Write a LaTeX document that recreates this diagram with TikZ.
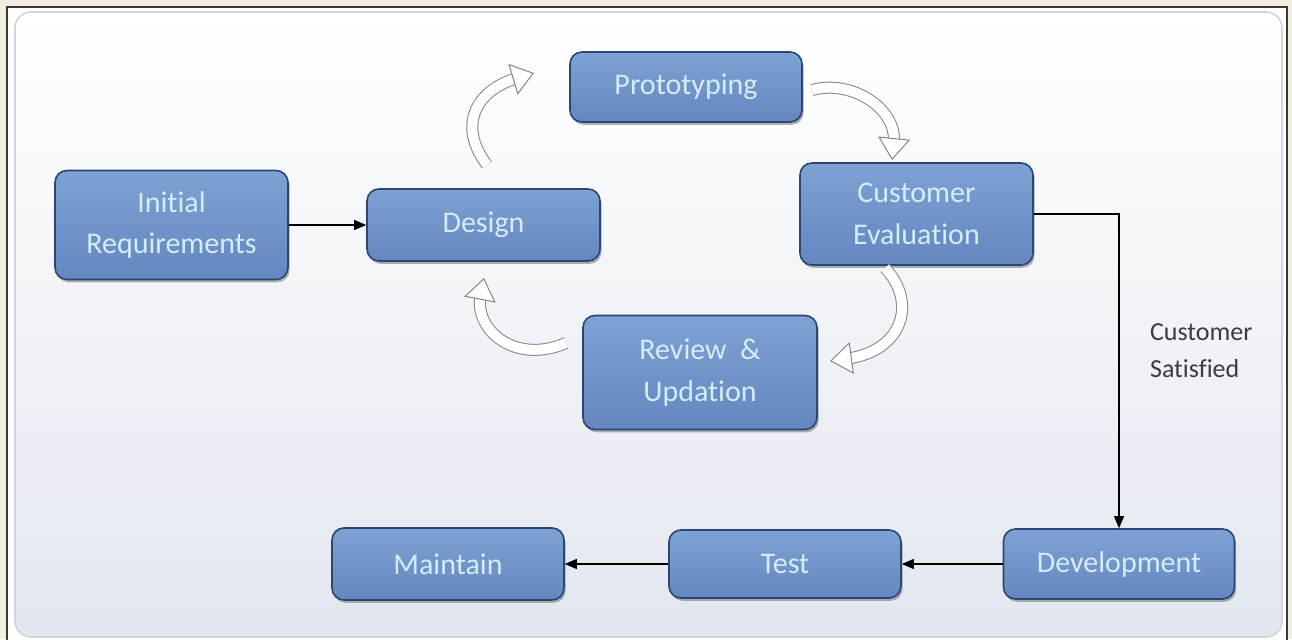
\documentclass[tikz,border=0pt]{standalone}
\usepackage{fontspec}
\setmainfont{Carlito}[Ligatures=NoCommon]
\usetikzlibrary{arrows.meta,shadows}

\definecolor{paper}{HTML}{F1EEDF}
\definecolor{frame}{HTML}{3A3A30}
\definecolor{paneledge}{HTML}{D2D4D8}
\definecolor{panelbot}{HTML}{E2E7EF}
\definecolor{boxtop}{HTML}{7FA2D4}
\definecolor{boxmid}{HTML}{3D6BAC}
\definecolor{boxbot}{HTML}{6387BF}
\definecolor{boxedge}{HTML}{2B4672}
\definecolor{boxtext}{HTML}{D4ECFA}
\definecolor{loopedge}{HTML}{858585}
\definecolor{labeltext}{HTML}{3C3C3C}

\tikzset{
  phase/.style={rounded corners=6pt, draw=boxedge, line width=0.8pt,
    top color=boxtop, middle color=boxmid, bottom color=boxbot,
    text=boxtext, align=center, inner sep=0pt,
    font=\fontsize{15}{21}\selectfont,
    drop shadow={shadow xshift=0.8pt, shadow yshift=-1.4pt, fill=black!55, opacity=0.55}},
  flow/.style={draw=black, line width=0.6pt, -{Triangle[length=6pt,width=5pt]}},
  loopshaft/.style={draw=loopedge, line width=0.5pt, double=white,
    double distance=5pt, shorten >=9pt},
  loophead/.style={white, line width=0.3pt,
    -{Triangle[open, color=loopedge, fill=white, length=11pt, width=16pt, line width=0.5pt]}}
}

\begin{document}
\begin{tikzpicture}[x=0.5pt, y=0.5pt]
  \useasboundingbox (0,0) rectangle (1292,639);
  % page and panel
  \fill[paper] (0,0) rectangle (1292,639);
  \draw[frame, line width=1.2pt, fill=white] (7,-10) rectangle (1287,632);
  \shade[top color=white, bottom color=panelbot, draw=paneledge, line width=0.8pt,
    rounded corners=8pt] (15,2) rectangle (1282,627);

  % phases
  \node[phase, minimum width=116.5pt, minimum height=54.5pt] (init) at (171.5,414) {Initial\\Requirements};
  \node[phase, minimum width=116.5pt, minimum height=36pt] (design) at (483.5,414) {Design};
  \node[phase, minimum width=116pt, minimum height=35pt] (proto) at (686,552) {Prototyping};
  \node[phase, minimum width=116.5pt, minimum height=51pt] (cust) at (916.5,425) {Customer\\Evaluation};
  \node[phase, minimum width=117pt, minimum height=57pt] (review) at (700,266.5) {Review~~\&\\Updation};
  \node[phase, minimum width=115.5pt, minimum height=35pt] (dev) at (1119,75) {Development};
  \node[phase, minimum width=116pt, minimum height=34pt] (test) at (785,75) {Test};
  \node[phase, minimum width=116pt, minimum height=36pt] (maint) at (448,75) {Maintain};

  % straight connectors
  \draw[flow] (init) -- (design);
  \draw[flow] (cust.east) -| (dev.north);
  \draw[flow] (dev) -- (test);
  \draw[flow] (test) -- (maint);
  \node[anchor=west, align=left, text=labeltext, font=\fontsize{13}{18.5}\selectfont]
    (ok) at (1143,288) {Customer\\Satisfied};

  % loop arrows
  \coordinate (l1a) at (487,474);
  \coordinate (l1b) at (534,566);
  \coordinate (l2a) at (812,549);
  \coordinate (l2b) at (892,479);
  \coordinate (l3a) at (885,371);
  \coordinate (l3b) at (830,278);
  \coordinate (l4a) at (566,296);
  \coordinate (l4b) at (484,361);
  \draw[loopshaft] (l1a) .. controls (458,512) and (474,548) .. (l1b);
  \draw[loophead] (l1a) .. controls (458,512) and (474,548) .. (l1b);
  \draw[loopshaft] (l2a) .. controls (852,560) and (897,530) .. (l2b);
  \draw[loophead] (l2a) .. controls (852,560) and (897,530) .. (l2b);
  \draw[loopshaft] (l3a) .. controls (918,336) and (902,288) .. (l3b);
  \draw[loophead] (l3a) .. controls (918,336) and (902,288) .. (l3b);
  \draw[loopshaft] (l4a) .. controls (515,274) and (474,309) .. (l4b);
  \draw[loophead] (l4a) .. controls (515,274) and (474,309) .. (l4b);
\end{tikzpicture}
\end{document}
